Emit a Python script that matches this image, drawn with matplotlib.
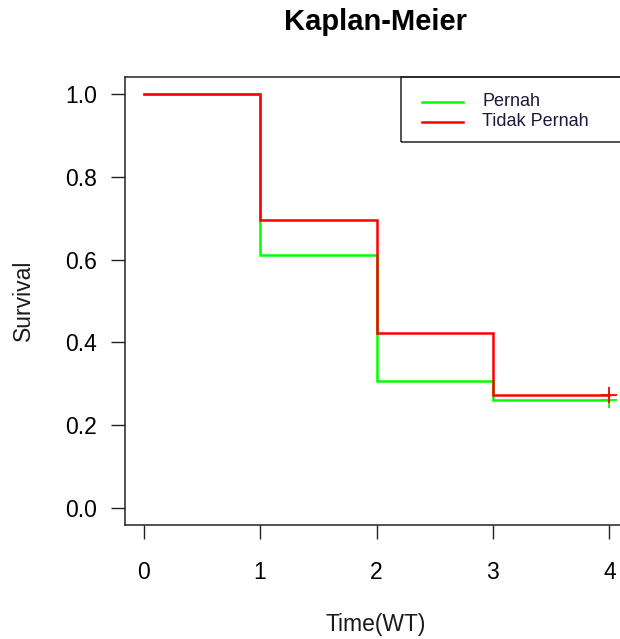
import matplotlib
matplotlib.use("Agg")
import matplotlib.pyplot as plt
from matplotlib.patches import Rectangle
from matplotlib.lines import Line2D

plt.rcParams['font.family'] = ['Liberation Sans', 'DejaVu Sans']

# Kaplan-Meier estimates
times = [0, 1, 2, 3, 4]
surv_pernah = [1.0, 0.612, 0.307, 0.262, 0.262]
surv_tidak = [1.0, 0.695, 0.422, 0.274, 0.274]
groups = ["Pernah", "Tidak Pernah"]
colors = ["#00ff00", "#ff0000"]
xticks = [0, 1, 2, 3, 4]
yticks = [0.0, 0.2, 0.4, 0.6, 0.8, 1.0]

W, H = 620, 639
fig = plt.figure(figsize=(W / 100, H / 100), dpi=100)
L, R, T, B = 125, 628, 77, 525
ax = fig.add_axes([L / W, 1 - B / H, (R - L) / W, (B - T) / H])

for s, c in zip([surv_pernah, surv_tidak], colors):
    ax.step(times, s, where='post', color=c, lw=1.8, solid_joinstyle='miter')
    ax.plot([times[-1]], [s[-1]], marker='+', ms=12, mew=1.3, color=c, ls='none')

ax.set_xlim(-0.16, 4.16)
ax.set_ylim(-0.04, 1.04)
ax.set_xticks(xticks)
ax.set_xticklabels([str(t) for t in xticks])
ax.set_yticks(yticks)
ax.set_yticklabels([f"{v:.1f}" for v in yticks])
ax.tick_params(axis='both', direction='out', length=10, width=1.0, labelsize=16.5, color='#222222')
ax.tick_params(axis='x', pad=16)
ax.tick_params(axis='y', pad=10)
for sp in ax.spines.values():
    sp.set_linewidth(1.1)
    sp.set_color('#222222')

fig.text(376 / W, 1 - 624 / H, "Time(WT)", ha='center', va='center', fontsize=16.5, color='#1a1a1a')
fig.text(23 / W, 1 - 300 / H, "Survival", ha='center', va='center', rotation=90, fontsize=16.5, color='#1a1a1a')
fig.text(376 / W, 1 - 22 / H, "Kaplan-Meier", ha='center', va='center', fontsize=21, fontweight='bold')

# legend box (R-style, topright)
lx0, ly0, lx1, ly1 = 401, 77, 628, 142
fig.patches.append(Rectangle((lx0 / W, 1 - ly1 / H), (lx1 - lx0) / W, (ly1 - ly0) / H,
                             transform=fig.transFigure, fill=False, ec='#222222', lw=1.1))
for i, (g, c) in enumerate(zip(groups, colors)):
    yy = 1 - (102 + 20 * i) / H
    fig.lines.append(Line2D([422 / W, 463 / W], [yy, yy], transform=fig.transFigure, color=c, lw=1.8))
    fig.text(482 / W, yy, g, ha='left', va='center', fontsize=13, color='#1a1a3a')

fig.savefig("out.png", dpi=100)
